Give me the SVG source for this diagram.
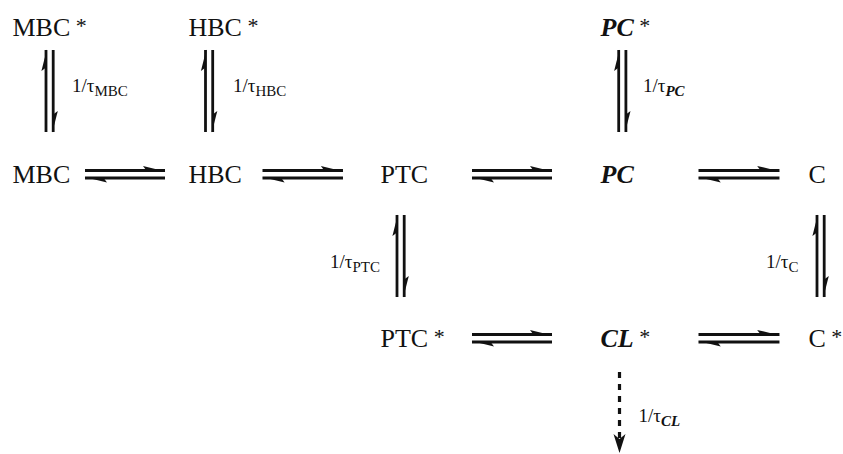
<svg xmlns="http://www.w3.org/2000/svg" width="843" height="454" viewBox="0 0 843 454">
<style>
.n{font-family:"Liberation Serif","Times New Roman",serif;font-size:26px;fill:#111}
.bi{font-weight:bold;font-style:italic}
.st{font-size:22px;font-weight:normal;font-style:normal}
.r{font-family:"Liberation Serif","Times New Roman",serif;font-size:19px;fill:#111}
.s{font-size:15px}
.ln{stroke:#111;stroke-width:2.8;fill:none}
.b{fill:#111}
.d{stroke:#111;stroke-width:3.2;stroke-dasharray:6 6;fill:none}
</style>
<defs>
<g id="eqH">
<line class="ln" x1="0" y1="0" x2="80" y2="0"/>
<polygon class="b" points="80.5,0.9 58,-4.6 61,-0.6"/>
<line class="ln" x1="0" y1="7.5" x2="80" y2="7.5"/>
<polygon class="b" points="-0.5,6.6 22,12.1 19,8.1"/>
</g>
<g id="eqV">
<line class="ln" x1="0" y1="0" x2="0" y2="82"/>
<polygon class="b" points="0.9,-0.5 -4.6,21 -0.6,18"/>
<line class="ln" x1="7.2" y1="0" x2="7.2" y2="82"/>
<polygon class="b" points="6.3,82.5 11.8,61 7.8,64"/>
</g>
</defs>
<g id="MBCstar"><text class="n" x="12.5" y="36">MBC<tspan class="st" dy="-3"> *</tspan></text></g>
<g id="HBCstar"><text class="n" x="188.5" y="36">HBC<tspan class="st" dy="-3"> *</tspan></text></g>
<g id="PCstar"><text class="n" x="600.5" y="36"><tspan class="bi">PC</tspan><tspan class="st" dy="-3"> *</tspan></text></g>
<g id="MBC"><text class="n" x="12.5" y="183">MBC</text></g>
<g id="HBC"><text class="n" x="188.5" y="183">HBC</text></g>
<g id="PTC"><text class="n" x="380.5" y="183">PTC</text></g>
<g id="PC"><text class="n bi" x="600.5" y="183">PC</text></g>
<g id="C"><text class="n" x="808.5" y="183">C</text></g>
<g id="PTCstar"><text class="n" x="380.5" y="347">PTC<tspan class="st" dy="-3"> *</tspan></text></g>
<g id="CLstar"><text class="n" x="600.5" y="347"><tspan class="bi">CL</tspan><tspan class="st" dy="-3"> *</tspan></text></g>
<g id="Cstar"><text class="n" x="808.5" y="347">C<tspan class="st" dy="-3"> *</tspan></text></g>
<g id="connectors">
<use href="#eqH" transform="translate(85,170.5)"/>
<use href="#eqH" transform="translate(262.5,170.5) scale(1.006,1)"/>
<use href="#eqH" transform="translate(472,170.5)"/>
<use href="#eqH" transform="translate(698.5,170.5) scale(1.012,1)"/>
<use href="#eqH" transform="translate(472,334.5)"/>
<use href="#eqH" transform="translate(698.5,334.5) scale(1.012,1)"/>
<use href="#eqV" transform="translate(46,50)"/>
<use href="#eqV" transform="translate(205.5,50)"/>
<use href="#eqV" transform="translate(618.7,50)"/>
<use href="#eqV" transform="translate(397,215)"/>
<use href="#eqV" transform="translate(817,215)"/>
<line class="d" x1="619.5" y1="372" x2="619.5" y2="438"/>
<polygon class="b" points="613.5,434 619.5,453 625.5,434 619.5,439"/>
<text class="r" x="72" y="92">1/τ<tspan class="s" dy="4">MBC</tspan></text>
<text class="r" x="233" y="92">1/τ<tspan class="s" dy="4">HBC</tspan></text>
<text class="r" x="643" y="92">1/τ<tspan class="s bi" dy="4">PC</tspan></text>
<text class="r" x="330" y="268">1/τ<tspan class="s" dy="4">PTC</tspan></text>
<text class="r" x="766" y="268">1/τ<tspan class="s" dy="4">C</tspan></text>
<text class="r" x="638.5" y="422">1/τ<tspan class="s bi" dy="4">CL</tspan></text>
</g>
</svg>
